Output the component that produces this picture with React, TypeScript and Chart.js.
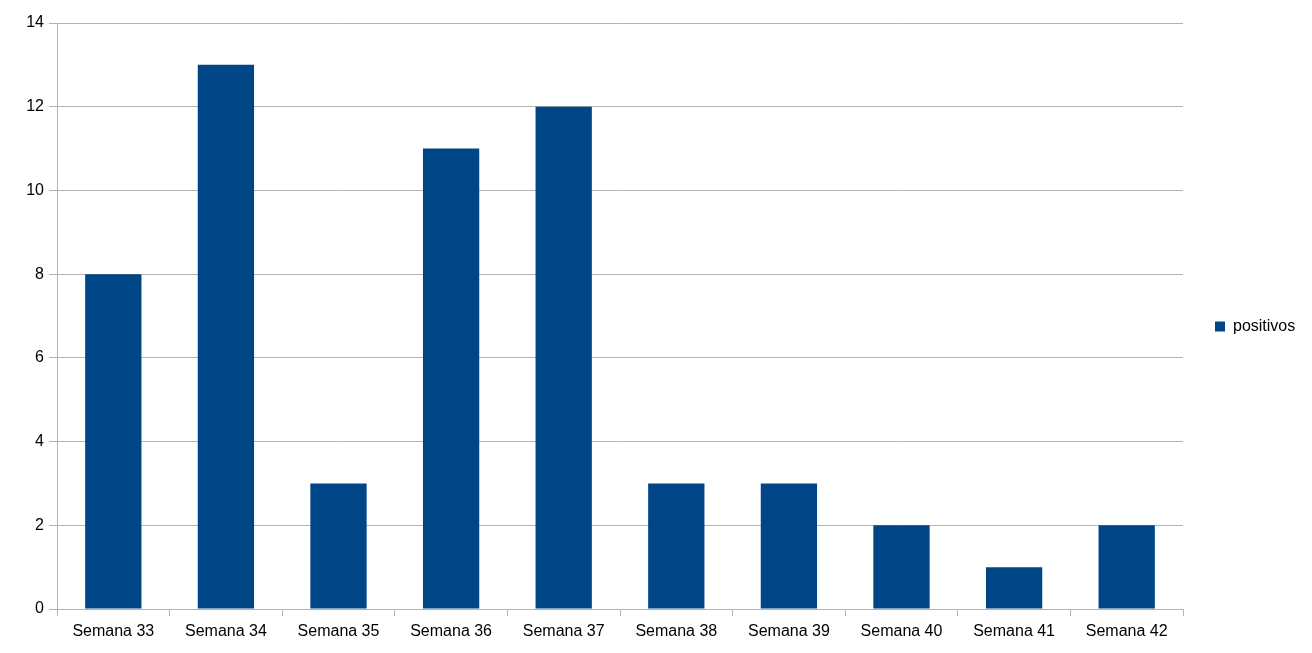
import React, { useEffect, useRef } from "react";
import { Chart, registerables } from "chart.js";

Chart.register(...registerables);

const categories = [
  "Semana 33",
  "Semana 34",
  "Semana 35",
  "Semana 36",
  "Semana 37",
  "Semana 38",
  "Semana 39",
  "Semana 40",
  "Semana 41",
  "Semana 42",
];
const positivos = [8, 13, 3, 11, 12, 3, 3, 2, 1, 2];
const seriesName = "positivos";
const yMin = 0;
const yMax = 14;
const yStep = 2;

const FONT = "'Liberation Sans', Arial, sans-serif";

export default function App() {
  const ref = useRef<HTMLCanvasElement | null>(null);

  useEffect(() => {
    document.body.style.margin = "0";
    const canvas = ref.current;
    if (!canvas) return;
    const legendWidthPlugin = {
      id: "legendWidth",
      afterInit(chart: any) {
        const legend = chart.legend;
        if (legend && !legend.__patched) {
          const orig = legend.fit;
          legend.fit = function () {
            orig.call(this);
            this.width = 129;
          };
          legend.__patched = true;
        }
      },
    };
    const chart = new Chart(canvas, {
      type: "bar",
      data: {
        labels: categories,
        datasets: [
          {
            label: seriesName,
            data: positivos,
            backgroundColor: "#004586",
            borderWidth: 0,
            barPercentage: 0.5,
            categoryPercentage: 1.0,
          },
        ],
      },
      plugins: [legendWidthPlugin],
      options: {
        responsive: false,
        animation: false,
        devicePixelRatio: 1,
        layout: { padding: 0 },
        plugins: {
          tooltip: { enabled: false },
          legend: {
            position: "right",
            labels: {
              boxWidth: 10,
              boxHeight: 10,
              padding: 32,
              color: "#000",
              font: { family: FONT, size: 16 },
            },
          },
        },
        scales: {
          x: {
            grid: {
              offset: true,
              color: "#b3b3b3",
              tickLength: 7,
              drawOnChartArea: false,
            },
            border: { color: "#b3b3b3" },
            ticks: {
              color: "#000",
              padding: 6,
              maxRotation: 0,
              autoSkip: false,
              font: { family: FONT, size: 16 },
            },
            afterFit(scale: any) {
              scale.height = 44;
            },
          },
          y: {
            min: yMin,
            max: yMax,
            grid: { color: "#b3b3b3", tickLength: 8 },
            border: { color: "#b3b3b3" },
            ticks: {
              stepSize: yStep,
              color: "#000",
              padding: 5,
              font: { family: FONT, size: 16 },
            },
            afterFit(scale: any) {
              scale.width = 57;
              scale.paddingTop = 23;
            },
          },
        },
      },
    });
    return () => chart.destroy();
  }, []);

  return (
    <div style={{ position: "absolute", left: 0, top: 0, width: 1312, height: 653, background: "#fff" }}>
      <canvas ref={ref} width={1312} height={653} />
    </div>
  );
}
